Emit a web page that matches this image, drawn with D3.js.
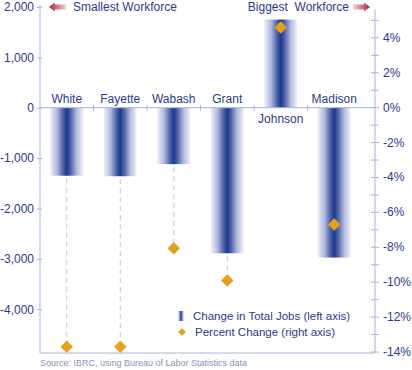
<!DOCTYPE html>
<html>
<head>
<meta charset="utf-8">
<script src="https://cdn.jsdelivr.net/npm/d3@7"></script>
<style>
  body { margin: 0; background: #fff; }
  text { font-family: "Liberation Sans", Arial, sans-serif; }
</style>
</head>
<body>
<div id="chart"></div>
<script>
var width = 412,
    height = 370;

// data
var counties = ["White", "Fayette", "Wabash", "Grant", "Johnson", "Madison"];
var jobChange = [-1350, -1360, -1120, -2890, 1750, -2975];
var pctChange = [-13.7, -13.7, -8.05, -9.9, 4.6, -6.7];
var leftTicks = [2000, 1000, 0, -1000, -2000, -3000, -4000];
var rightTicks = [4, 2, 0, -2, -4, -6, -8, -10, -12, -14];

var textColor = "#2b3a8f",
    axisColor = "#aab5dc";

var svg = d3.select("#chart")
    .append("svg")
    .attr("width", width)
    .attr("height", height);

var defs = svg.append("defs");

// blue bar fading to the sides
var barGrad = defs.append("linearGradient")
    .attr("id", "barGrad")
    .attr("x1", "0%").attr("x2", "100%")
    .attr("y1", "0%").attr("y2", "0%");
[[0, "#f0f1f9"], [0.2, "#b3bbdd"], [0.38, "#5064a9"], [0.5, "#1c388b"],
 [0.62, "#5064a9"], [0.8, "#b3bbdd"], [1, "#f0f1f9"]].forEach(function(s) {
  barGrad.append("stop").attr("offset", s[0]).attr("stop-color", s[1]);
});

var arrowL = defs.append("linearGradient")
    .attr("id", "arrowL").attr("x1", "0%").attr("x2", "100%");
arrowL.append("stop").attr("offset", 0).attr("stop-color", "#a3243c");
arrowL.append("stop").attr("offset", 1).attr("stop-color", "#f2d3d6");
var arrowR = defs.append("linearGradient")
    .attr("id", "arrowR").attr("x1", "0%").attr("x2", "100%");
arrowR.append("stop").attr("offset", 0).attr("stop-color", "#f2d3d6");
arrowR.append("stop").attr("offset", 1).attr("stop-color", "#a3243c");

var x = d3.scaleBand()
    .domain(counties)
    .range([40, 361])
    .paddingInner(0)
    .paddingOuter(0);

var yLeft = d3.scaleLinear().domain([-4850, 2000]).range([352, 7]);
var yRight = d3.scaleLinear().domain([-14, 5.77]).range([352, 7]);

var barW = 33;

// bars
svg.append("g")
    .selectAll("rect")
    .data(counties)
    .enter()
    .append("rect")
    .attr("x", function(d) { return x(d) + x.bandwidth() / 2 - barW / 2; })
    .attr("width", barW)
    .attr("y", function(d, i) { return yLeft(Math.max(0, jobChange[i])); })
    .attr("height", function(d, i) { return Math.abs(yLeft(jobChange[i]) - yLeft(0)); })
    .attr("fill", "url(#barGrad)");

// dashed drop lines from bar end to diamond
svg.append("g")
    .selectAll("line")
    .data(counties.filter(function(d, i) { return yRight(pctChange[i]) > yLeft(jobChange[i]) + 2; }))
    .enter()
    .append("line")
    .attr("x1", function(d) { return x(d) + x.bandwidth() / 2; })
    .attr("x2", function(d) { return x(d) + x.bandwidth() / 2; })
    .attr("y1", function(d) { return yLeft(jobChange[counties.indexOf(d)]) + 3; })
    .attr("y2", function(d) { return yRight(pctChange[counties.indexOf(d)]); })
    .attr("stroke", "#bcc5e3")
    .attr("stroke-width", 1)
    .attr("stroke-dasharray", "5,4");

// axes
var commaFmt = d3.format(",");
var leftAxis = svg.append("g")
    .attr("transform", "translate(40,0)")
    .call(d3.axisLeft(yLeft).tickValues(leftTicks).tickSize(3).tickPadding(3)
      .tickFormat(function(d) { return commaFmt(d).replace("\u2212", "-"); }));
leftAxis.select(".domain").remove();
leftAxis.append("line")
    .attr("x1", 0).attr("x2", 0)
    .attr("y1", 5).attr("y2", 353)
    .attr("stroke", axisColor);
leftAxis.selectAll(".tick line").attr("stroke", axisColor).attr("x2", -3).attr("x1", 2);
leftAxis.selectAll(".tick text")
    .attr("fill", textColor)
    .style("font-size", "12px")
    .style("font-family", "Liberation Sans, Arial, sans-serif");

var rightAxis = svg.append("g")
    .attr("transform", "translate(375,0)");
rightAxis.append("line")
    .attr("x1", 0).attr("x2", 0)
    .attr("y1", 9).attr("y2", 353)
    .attr("stroke", axisColor);
rightAxis.selectAll(".minor")
    .data(d3.range(-14, 6))
    .enter()
    .append("line")
    .attr("x1", -4).attr("x2", 4)
    .attr("y1", function(d) { return yRight(d); })
    .attr("y2", function(d) { return yRight(d); })
    .attr("stroke", axisColor);
rightAxis.selectAll("text")
    .data(rightTicks)
    .enter()
    .append("text")
    .attr("x", 8)
    .attr("y", function(d) { return yRight(d) + 4; })
    .attr("fill", textColor)
    .style("font-size", "12px")
    .text(function(d) { return d + "%"; });

// zero line and bottom line
svg.append("line")
    .attr("x1", 40).attr("x2", 375)
    .attr("y1", yLeft(0)).attr("y2", yLeft(0))
    .attr("stroke", axisColor);
svg.append("line")
    .attr("x1", 40).attr("x2", 375)
    .attr("y1", 353).attr("y2", 353)
    .attr("stroke", axisColor);
svg.append("g")
    .selectAll("line")
    .data(counties.slice(1))
    .enter()
    .append("line")
    .attr("x1", function(d) { return x(d); })
    .attr("x2", function(d) { return x(d); })
    .attr("y1", yLeft(0) - 3)
    .attr("y2", yLeft(0) + 3)
    .attr("stroke", axisColor);

// county labels
svg.append("g")
    .selectAll("text")
    .data(counties)
    .enter()
    .append("text")
    .attr("x", function(d) { return x(d) + x.bandwidth() / 2; })
    .attr("y", function(d, i) { return jobChange[i] < 0 ? yLeft(0) - 5 : yLeft(0) + 15; })
    .attr("text-anchor", "middle")
    .attr("fill", textColor)
    .style("font-size", "12px")
    .text(function(d) { return d; });

// diamonds
var diamond = d3.symbol().type(d3.symbolDiamond2).size(100);
svg.append("g")
    .selectAll("path")
    .data(counties)
    .enter()
    .append("path")
    .attr("d", diamond)
    .attr("transform", function(d, i) {
      return "translate(" + (x(d) + x.bandwidth() / 2) + "," + yRight(pctChange[i]) + ")";
    })
    .attr("fill", "#e5a11b");

// header arrows
svg.append("path")
    .attr("d", "M49,7 L55,2.5 L55,4.5 L66,4.5 L66,9.5 L55,9.5 L55,11.5 Z")
    .attr("fill", "url(#arrowL)");
svg.append("text")
    .attr("x", 73).attr("y", 11)
    .attr("fill", textColor)
    .style("font-size", "12px")
    .text("Smallest Workforce");

svg.append("path")
    .attr("d", "M370,7 L364,2.5 L364,4.5 L353,4.5 L353,9.5 L364,9.5 L364,11.5 Z")
    .attr("fill", "url(#arrowR)");
svg.append("text")
    .attr("x", 349).attr("y", 11)
    .attr("text-anchor", "end")
    .attr("fill", textColor)
    .style("font-size", "12px")
    .style("white-space", "pre")
    .text("Biggest  Workforce");

// legend
var legend = svg.append("g");
legend.append("rect")
    .attr("x", 178).attr("y", 311)
    .attr("width", 6).attr("height", 10)
    .attr("fill", "url(#barGrad)");
legend.append("text")
    .attr("x", 193).attr("y", 320)
    .attr("fill", textColor)
    .style("font-size", "11.5px")
    .text("Change in Total Jobs (left axis)");
legend.append("path")
    .attr("d", d3.symbol().type(d3.symbolDiamond2).size(36))
    .attr("transform", "translate(182,332)")
    .attr("fill", "#e5a11b");
legend.append("text")
    .attr("x", 195).attr("y", 336)
    .attr("fill", textColor)
    .style("font-size", "11.5px")
    .text("Percent Change (right axis)");

// source
svg.append("text")
    .attr("x", 40).attr("y", 366)
    .attr("fill", "#8a93b3")
    .style("font-size", "9px")
    .text("Source: IBRC, using Bureau of Labor Statistics data");
</script>
</body>
</html>
